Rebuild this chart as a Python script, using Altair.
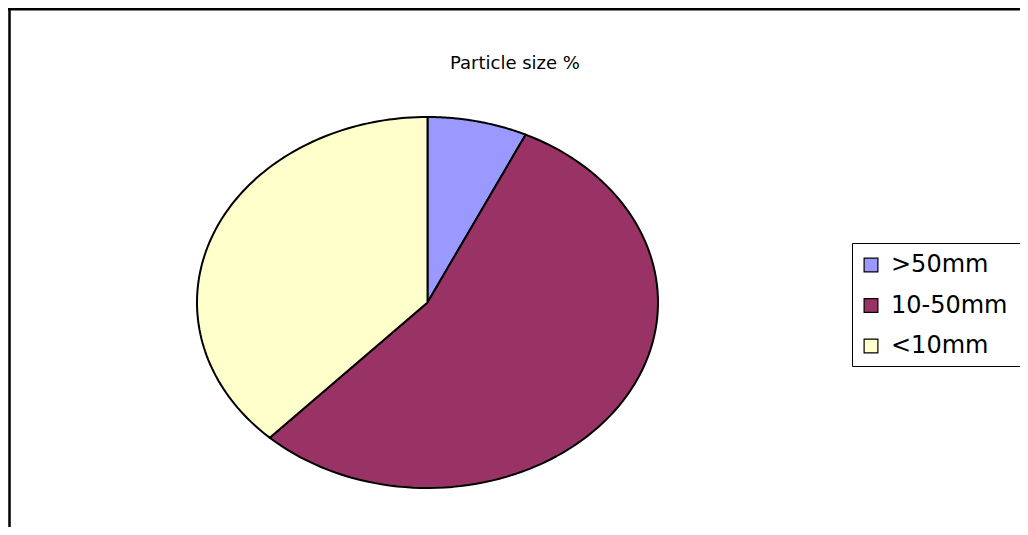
import altair as alt
import pandas as pd

# Data
categories = [">50mm", "10-50mm", "<10mm"]
values = [7, 55, 38]
colors = ["#9999FF", "#993366", "#FFFFCC"]
title_text = "Particle size %"

df = pd.DataFrame({"category": categories, "value": values, "idx": list(range(len(categories)))})

W, H = 1012, 519
FONT = "DejaVu Sans"
LEG_FONT = "DejaVu Sans"

x_scale = alt.Scale(domain=[-1, 1], range=[189, 650])
y_scale = alt.Scale(domain=[-1, 1], range=[480, 109])

pie = (
    alt.Chart(df)
    .transform_joinaggregate(total="sum(value)")
    .transform_window(cum="sum(value)", sort=[alt.SortField("idx")], frame=[None, 0])
    .transform_calculate(
        start="(datum.cum - datum.value) / datum.total * 2 * PI",
        end="datum.cum / datum.total * 2 * PI",
        steps="sequence(0, 103)",
    )
    .transform_flatten(["steps"])
    .transform_calculate(
        t="clamp((datum.steps - 1) / 100, 0, 1)",
    )
    .transform_calculate(
        a="datum.start + (datum.end - datum.start) * datum.t",
        r="(datum.steps == 0 || datum.steps == 102) ? 0 : 1",
    )
    .transform_calculate(
        px="datum.r * sin(datum.a)",
        py="datum.r * cos(datum.a)",
    )
    .mark_line(filled=True, stroke="black", strokeWidth=2, strokeJoin="round", opacity=1)
    .encode(
        x=alt.X("px:Q", scale=x_scale, axis=None),
        y=alt.Y("py:Q", scale=y_scale, axis=None),
        order=alt.Order("steps:Q"),
        detail="category:N",
        color=alt.Color(
            "category:N",
            scale=alt.Scale(domain=categories, range=colors),
            legend=alt.Legend(
                orient="none",
                legendX=851,
                legendY=245,
                title=None,
                symbolType="square",
                symbolSize=190,
                symbolStrokeColor="black",
                symbolStrokeWidth=1.2,
                symbolOpacity=1,
                labelFont=LEG_FONT,
                labelFontSize=24,
                labelColor="black",
                labelOffset=8,
                rowPadding=16.5,
                padding=0,
            ),
        ),
    )
)

title = alt.Chart(pd.DataFrame({"t": [title_text]})).mark_text(
    font=FONT, fontSize=18, color="black", align="center", baseline="middle"
).encode(x=alt.value(507), y=alt.value(56), text="t:N")

frame_top = alt.Chart(pd.DataFrame({"a": [0]})).mark_rule(color="black", strokeWidth=3).encode(
    x=alt.value(0), x2=alt.value(W), y=alt.value(1)
)
frame_left = alt.Chart(pd.DataFrame({"a": [0]})).mark_rule(color="black", strokeWidth=2.5).encode(
    x=alt.value(1.5), y=alt.value(0), y2=alt.value(H)
)

leg_top = alt.Chart(pd.DataFrame({"a": [0]})).mark_rule(color="black", strokeWidth=1).encode(
    x=alt.value(844.5), x2=alt.value(W), y=alt.value(235.5)
)
leg_left = alt.Chart(pd.DataFrame({"a": [0]})).mark_rule(color="black", strokeWidth=1).encode(
    x=alt.value(844.5), y=alt.value(235.5), y2=alt.value(358.5)
)
leg_bottom = alt.Chart(pd.DataFrame({"a": [0]})).mark_rule(color="black", strokeWidth=1).encode(
    x=alt.value(844.5), x2=alt.value(W), y=alt.value(358.5)
)

chart = (
    alt.layer(frame_top, frame_left, leg_top, leg_left, leg_bottom, pie, title)
    .properties(width=W, height=H, padding=0, autosize=alt.AutoSizeParams(type="none"))
    .configure_view(stroke=None)
)

chart.save("out.html", embed_options={"renderer": "svg", "actions": False})
